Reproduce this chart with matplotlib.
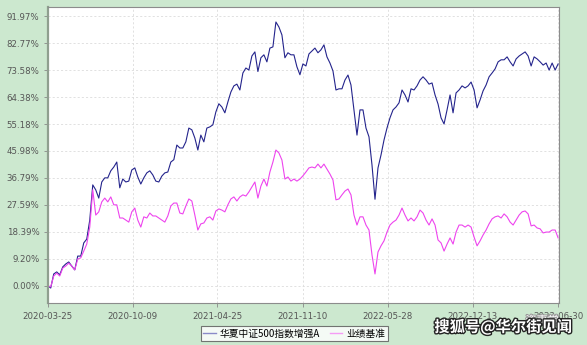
import matplotlib
matplotlib.use('Agg')
import matplotlib.pyplot as plt
import matplotlib.dates as mdates
import matplotlib.patheffects as pe
from matplotlib.lines import Line2D
import pandas as pd

# weekly readings (cumulative return, %) from 2020-03-25 to 2023-06-30
start = '2020-03-25'
end = '2023-06-30'
tick_dates = ['2020-03-25', '2020-10-09', '2021-04-25', '2021-11-10',
              '2022-05-28', '2022-12-13', '2023-06-30']
y_ticks = [0.00, 9.20, 18.39, 27.59, 36.79, 45.98, 55.18, 64.38, 73.58, 82.77, 91.97]

fund = [
    0.0, -0.8, 4.0, 4.7, 3.7, 6.4, 7.4, 8.1, 6.7, 5.4,
    10.1, 10.1, 14.6, 15.9, 22.4, 34.4, 32.7, 29.9, 35.4, 36.8,
    36.8, 39.2, 40.5, 42.2, 33.4, 36.4, 35.4, 35.7, 39.5, 40.2,
    37.1, 34.7, 36.8, 38.5, 39.2, 37.8, 35.7, 35.4, 37.4, 38.5,
    38.8, 42.2, 43.0, 48.0, 47.0, 47.0, 49.1, 53.8, 53.2, 50.4,
    46.3, 51.4, 49.1, 53.8, 54.2, 54.9, 59.3, 62.1, 61.0, 59.0,
    62.7, 66.1, 68.2, 68.8, 66.8, 72.6, 74.3, 73.6, 78.4, 79.8,
    73.1, 77.8, 78.8, 76.4, 81.1, 81.5, 90.0, 88.3, 85.6, 77.8,
    79.5, 78.8, 78.8, 74.7, 72.0, 75.7, 75.0, 79.1, 80.1, 81.1,
    79.5, 80.5, 82.2, 78.1, 76.0, 73.3, 66.8, 67.2, 67.2, 70.2,
    71.9, 68.5, 60.0, 51.4, 60.0, 60.0, 53.8, 50.8, 41.2, 29.5,
    40.2, 44.6, 49.7, 53.8, 57.3, 60.0, 61.0, 62.4, 66.8, 65.1,
    62.7, 67.2, 66.8, 68.2, 70.2, 71.3, 70.2, 68.8, 69.2, 65.1,
    62.0, 57.3, 55.2, 60.0, 65.1, 59.0, 65.8, 66.8, 68.2, 67.5,
    68.2, 69.5, 66.8, 60.7, 63.4, 66.5, 68.5, 71.3, 72.6, 74.0,
    76.4, 77.1, 77.1, 78.1, 76.4, 75.0, 77.4, 78.4, 79.1, 79.8,
    78.4, 75.0, 78.1, 77.4, 76.4, 75.3, 76.0, 73.6, 76.0, 73.6,
    75.7,
]

bench = [
    0.0, -0.4, 3.3, 4.3, 3.3, 6.0, 6.7, 7.7, 6.7, 5.4,
    9.1, 9.5, 11.8, 14.2, 20.0, 32.7, 24.1, 25.2, 28.6, 29.9,
    28.6, 30.3, 27.6, 27.6, 23.1, 23.1, 22.4, 21.7, 25.2, 26.5,
    22.4, 20.0, 23.5, 23.1, 24.8, 23.8, 23.8, 23.1, 22.4, 21.7,
    23.8, 27.2, 28.2, 28.2, 24.8, 24.5, 27.2, 29.6, 28.9, 24.1,
    19.0, 21.1, 21.4, 23.1, 23.5, 22.4, 25.5, 26.2, 25.8, 25.2,
    27.6, 29.6, 30.3, 28.9, 30.3, 31.0, 30.6, 32.0, 33.7, 35.4,
    29.9, 34.0, 36.4, 34.0, 38.8, 42.2, 46.3, 45.3, 42.9, 36.4,
    37.1, 35.7, 36.4, 35.7, 36.4, 37.5, 38.8, 40.2, 40.5, 40.2,
    41.5, 40.2, 41.5, 39.8, 38.1, 36.1, 29.3, 29.6, 31.0, 32.3,
    33.0, 31.0, 24.1, 20.7, 23.5, 23.5, 20.7, 19.0, 10.5, 4.0,
    11.5, 13.6, 15.3, 18.3, 20.7, 21.7, 22.4, 24.1, 26.5, 24.1,
    22.1, 23.1, 22.1, 23.5, 25.8, 24.8, 22.4, 20.7, 22.8, 20.7,
    15.6, 14.6, 11.8, 14.2, 16.3, 14.2, 18.3, 20.7, 20.7, 20.0,
    20.7, 20.0, 16.6, 13.6, 15.3, 17.3, 19.0, 21.1, 22.8, 23.5,
    23.8, 23.1, 24.5, 23.5, 21.7, 20.7, 22.4, 24.1, 25.2, 25.5,
    24.5, 20.4, 20.7, 19.7, 19.4, 18.0, 18.3, 18.3, 19.0, 19.0,
    16.3,
]

fund_dates = pd.date_range(start, end, periods=len(fund))
bench_dates = pd.date_range(start, end, periods=len(bench))

bg = '#cce8cf'
fig = plt.figure(figsize=(5.87, 3.45), dpi=100, facecolor=bg)
ax = fig.add_axes([0.0813, 0.121, 0.8710, 0.8585])
ax.set_facecolor('white')

ax.plot(fund_dates, fund, color='#24248c', lw=0.8)
ax.plot(bench_dates, bench, color='#ee44ee', lw=0.8)

ax.set_ylim(-6.0, 95.1)
ax.set_xlim(pd.Timestamp('2020-03-25'), pd.Timestamp('2023-07-02'))

ax.set_yticks(y_ticks)
ax.set_yticklabels([f'{v:.2f}%' for v in y_ticks])
ax.set_xticks(pd.to_datetime(tick_dates))
ax.xaxis.set_major_formatter(mdates.DateFormatter('%Y-%m-%d'))

ax.grid(True, color='#dcdcdc', lw=0.6, linestyle=(0, (2.5, 2.5)))
ax.tick_params(labelsize=6.2, colors='#888888', labelcolor='#555555',
               length=3, width=0.6, pad=3)

for side in ['top', 'right', 'bottom']:
    ax.spines[side].set_color('#8c8c8c')
    ax.spines[side].set_linewidth(0.8)
ax.spines['left'].set_color('#8f9f8f')
ax.spines['left'].set_linewidth(1.6)

handles = [Line2D([], [], color='#8a8ac8', lw=1.0),
           Line2D([], [], color='#f59cf5', lw=1.0)]
leg = fig.legend(handles, ['华夏中证500指数增强A', '业绩基准'],
                 loc='center', bbox_to_anchor=(0.501, 0.033), ncol=2,
                 prop={'family': ['Noto Sans CJK SC', 'DejaVu Sans'], 'size': 7},
                 frameon=True, fancybox=False, handlelength=1.3,
                 handletextpad=0.4, columnspacing=1.0, borderpad=0.25)
leg.get_frame().set_edgecolor('#555555')
leg.get_frame().set_linewidth(0.8)

# watermark
fig.text(0.952, 0.07, '资事堂', ha='right', va='center', fontsize=8,
         color='white', family=['Noto Sans CJK SC', 'DejaVu Sans'],
         path_effects=[pe.withStroke(linewidth=1.5, foreground='#999999')])
fig.text(0.974, 0.052, '搜狐号@华尔街见闻', ha='right', va='center', fontsize=11,
         fontweight='bold', color='white', family=['Noto Sans CJK SC', 'DejaVu Sans'],
         path_effects=[pe.withStroke(linewidth=2, foreground='#222222')])

fig.savefig('out.png', dpi=100, facecolor=bg)
